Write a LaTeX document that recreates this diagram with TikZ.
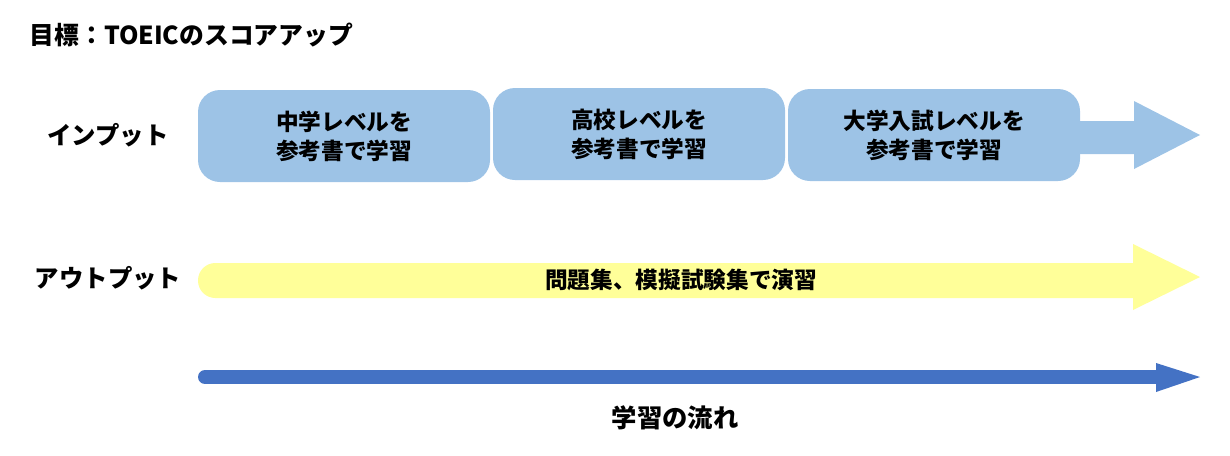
\documentclass[tikz,border=0pt]{standalone}
\usepackage{fontspec}
\setmainfont{Noto Sans CJK JP}
\usetikzlibrary{positioning}

\definecolor{inblue}{HTML}{9DC3E6}
\definecolor{outyellow}{HTML}{FFFF99}
\definecolor{flowblue}{HTML}{4472C4}

\tikzset{
  stagebox/.style={fill=inblue, rounded corners=16.5pt, minimum width=219pt, minimum height=69pt,
    inner sep=0pt, align=center, font=\fontsize{17}{21.75}\selectfont\bfseries},
  rowlabel/.style={font=\fontsize{18.3}{22}\selectfont\bfseries},
  bodytext/.style={font=\fontsize{17}{22}\selectfont\bfseries},
}

\begin{document}
\begin{tikzpicture}[x=0.75pt,y=-0.75pt]
\useasboundingbox (0,0) rectangle (1230,455);

\node[font=\fontsize{18.6}{22}\selectfont\bfseries, anchor=west] (goal) at (25,35) {目標：TOEICのスコアアップ};

% input row
\fill[inblue] (1060,121)--(1134,121)--(1134,101)--(1200,135)--(1134,169)--(1134,154)--(1060,154)--cycle;
\node[stagebox] (junior) at (344,136) {中学レベルを\\参考書で学習};
\node[stagebox] (high) at (639,134) {高校レベルを\\参考書で学習};
\node[stagebox] (exam) at (934,135) {大学入試レベルを\\参考書で学習};
\node[rowlabel] (inlabel) at (108,135) {インプット};

% output row
\fill[outyellow, rounded corners=13pt] (198,263) rectangle (1150,298);
\fill[outyellow] (1133,263)--(1133,244)--(1200,277)--(1133,310)--(1133,298)--cycle;
\node[bodytext] (practice) at (681,280) {問題集、模擬試験集で演習};
\node[rowlabel] (outlabel) at (108,278) {アウトプット};

% flow
\coordinate (flowstart) at (205,377);
\coordinate (flowneck) at (1157,377);
\draw[flowblue, line width=10.5pt, line cap=round] (flowstart) -- (flowneck);
\fill[flowblue] (1156,363)--(1200,377)--(1156,392)--cycle;
\node[font=\fontsize{19}{22}\selectfont\bfseries] (flowlabel) at (675,418) {学習の流れ};

\end{tikzpicture}
\end{document}
